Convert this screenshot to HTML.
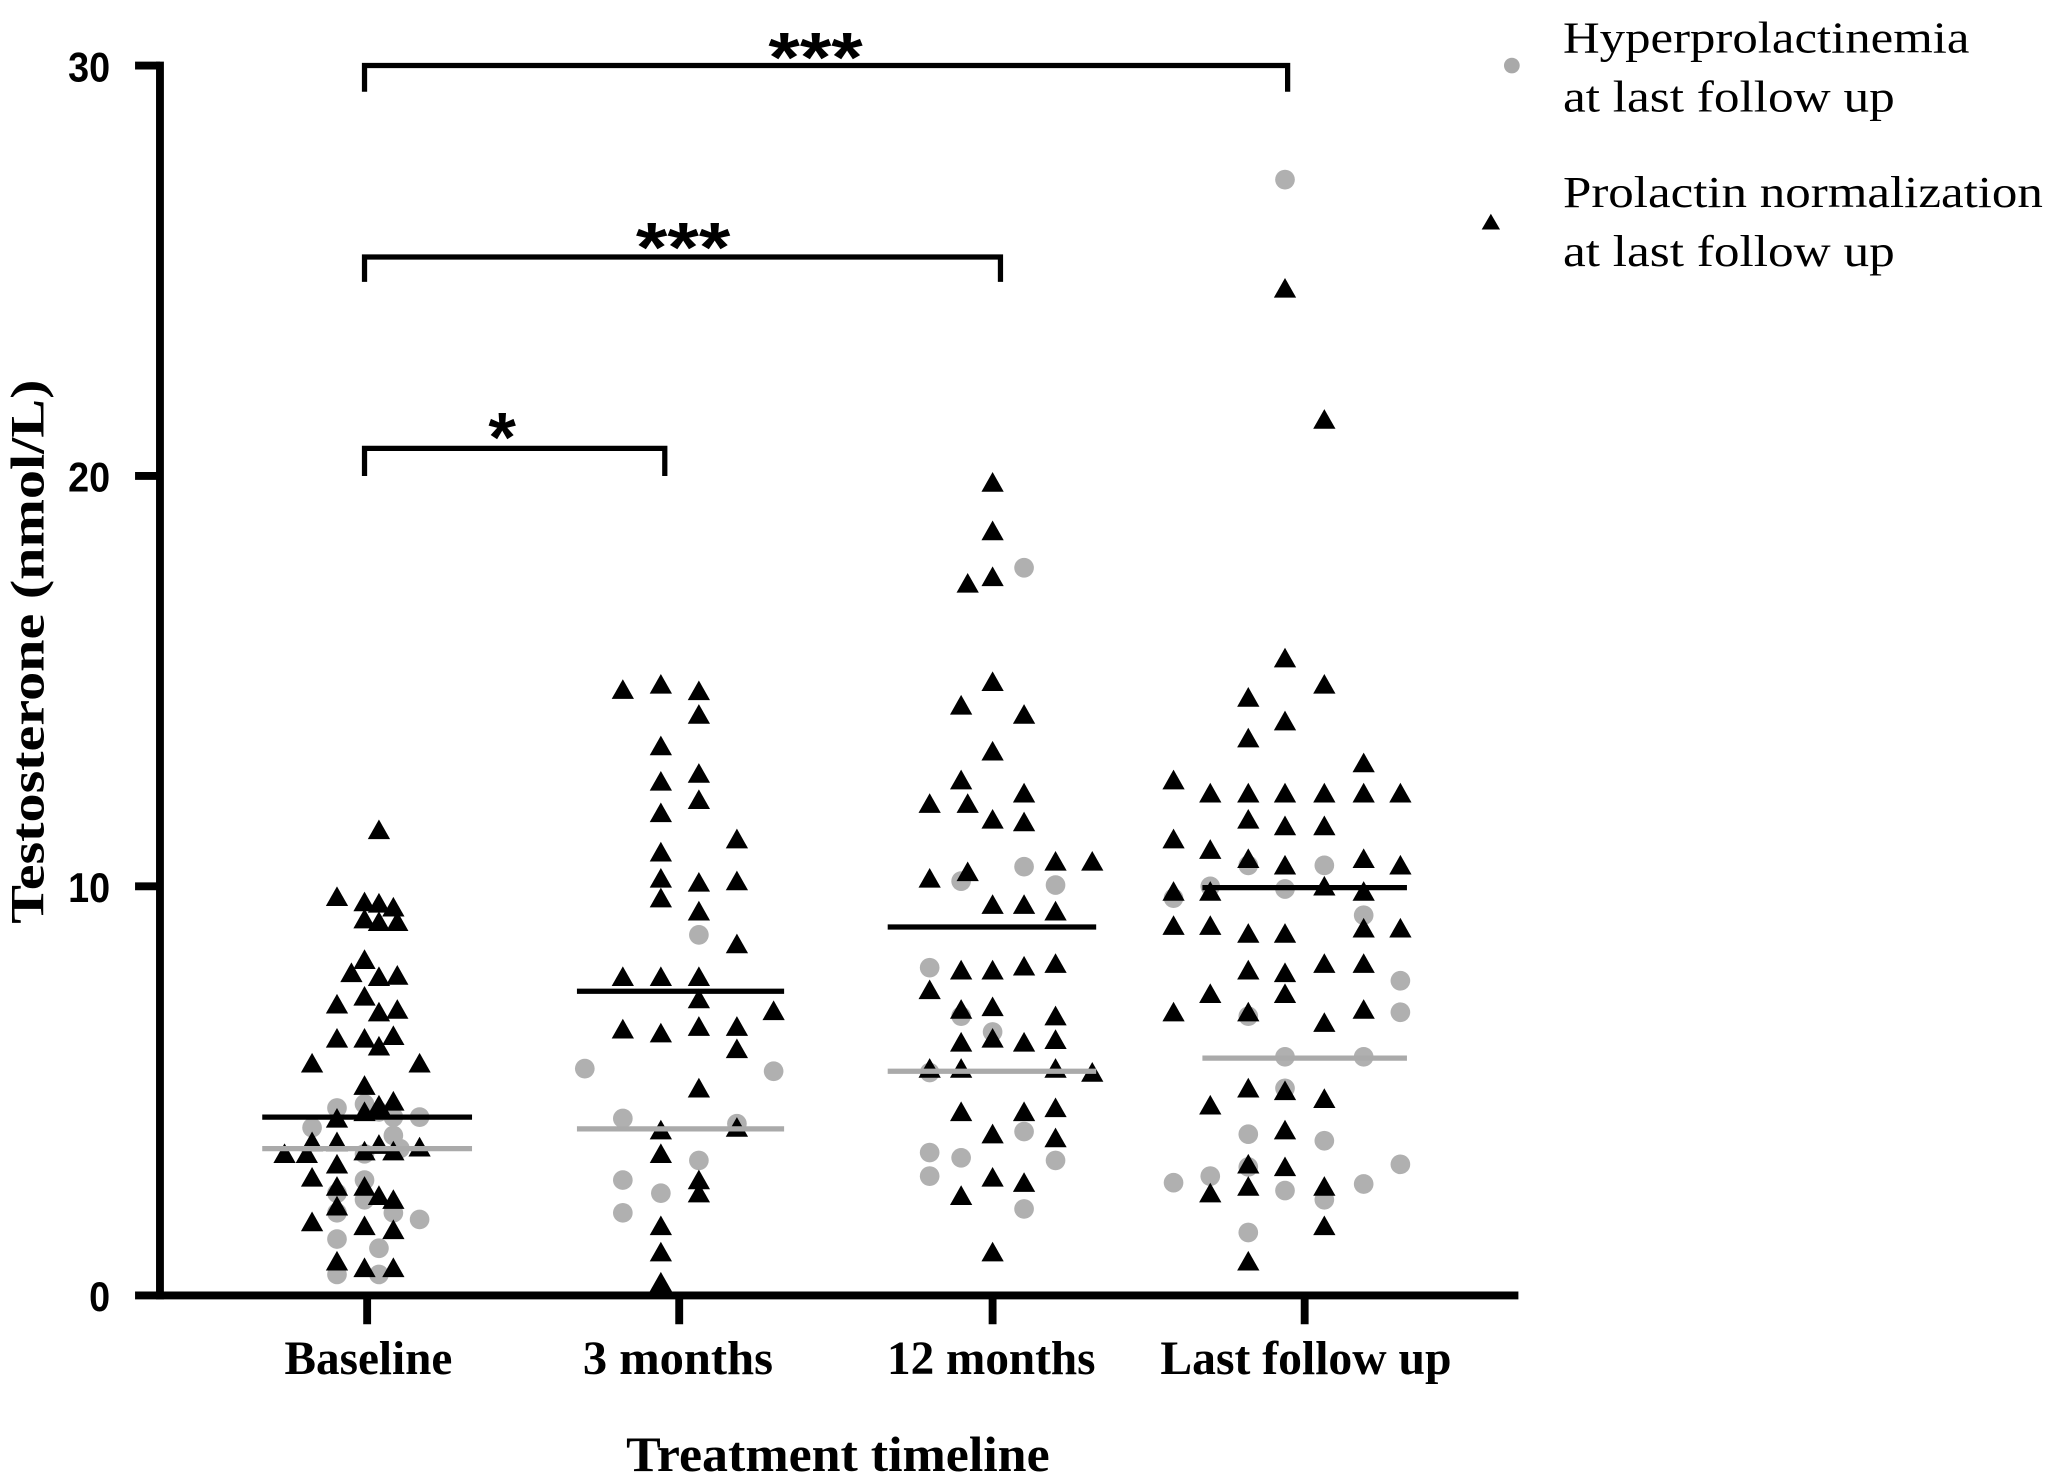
<!DOCTYPE html>
<html><head><meta charset="utf-8"><style>html,body{margin:0;padding:0;background:#fff}svg{display:block}</style></head>
<body>
<svg id="s" width="2056" height="1476" viewBox="0 0 1568 1125.7" preserveAspectRatio="none" xmlns="http://www.w3.org/2000/svg">
<rect width="1568" height="1126" fill="#fff"/>
<g stroke="#000" stroke-width="6" fill="none">
<line x1="122" y1="47" x2="122" y2="991"/>
<line x1="103" y1="50" x2="122" y2="50"/><line x1="103" y1="363" x2="122" y2="363"/>
<line x1="103" y1="676" x2="122" y2="676"/><line x1="103" y1="988" x2="1158" y2="988"/>
<line x1="280" y1="988" x2="280" y2="1010"/><line x1="518" y1="988" x2="518" y2="1010"/>
<line x1="757" y1="988" x2="757" y2="1010"/><line x1="995" y1="988" x2="995" y2="1010"/>
</g>
<g stroke="#000" stroke-width="4" fill="none">
<polyline points="278,70 278,50 982,50 982,70"/>
<polyline points="278,215 278,196 763,196 763,215"/>
<polyline points="278,363 278,342 507,342 507,363"/>
</g>
<g font-family="Liberation Sans, sans-serif" font-weight="bold" font-size="54" text-anchor="middle">
<text x="622" y="62" textLength="72" lengthAdjust="spacingAndGlyphs">***</text><text x="521" y="207" textLength="72" lengthAdjust="spacingAndGlyphs">***</text><text x="383" y="352">*</text>
</g>
<g font-family="Liberation Sans, sans-serif" font-weight="bold" font-size="32" text-anchor="end">
<text x="84" y="62" textLength="32" lengthAdjust="spacingAndGlyphs">30</text>
<text x="84" y="375" textLength="32" lengthAdjust="spacingAndGlyphs">20</text>
<text x="84" y="688" textLength="32" lengthAdjust="spacingAndGlyphs">10</text>
<text x="84" y="1000" textLength="16" lengthAdjust="spacingAndGlyphs">0</text>
</g>
<g font-family="Liberation Serif, serif" font-weight="bold" font-size="36" text-anchor="middle">
<text x="281" y="1048" textLength="128" lengthAdjust="spacingAndGlyphs">Baseline</text>
<text x="517" y="1048" textLength="145" lengthAdjust="spacingAndGlyphs">3 months</text>
<text x="756" y="1048" textLength="159" lengthAdjust="spacingAndGlyphs">12 months</text>
<text x="996" y="1048" textLength="222" lengthAdjust="spacingAndGlyphs">Last follow up</text>
<text x="639" y="1122" font-size="38" textLength="323" lengthAdjust="spacingAndGlyphs">Treatment timeline</text>
<text transform="translate(33,497) rotate(-90)" font-size="36" textLength="415" lengthAdjust="spacingAndGlyphs">Testosterone (nmol/L)</text>
</g>
<g font-family="Liberation Serif, serif" font-size="34">
<text x="1192" y="40" textLength="310" lengthAdjust="spacingAndGlyphs">Hyperprolactinemia</text>
<text x="1192" y="85" textLength="253" lengthAdjust="spacingAndGlyphs">at last follow up</text>
<text x="1192" y="158" textLength="366" lengthAdjust="spacingAndGlyphs">Prolactin normalization</text>
<text x="1192" y="203" textLength="253" lengthAdjust="spacingAndGlyphs">at last follow up</text>
</g>
<circle cx="1153" cy="50" r="6" fill="#a9a9a9"/>
<polygon points="1137,163 1130,175 1144,175" fill="#000"/>
<g id="pts"></g>
<g stroke-width="4">
<line x1="200" y1="852" x2="360" y2="852" stroke="#000"/><line x1="200" y1="876" x2="360" y2="876" stroke="#aaa"/>
<line x1="440" y1="756" x2="598" y2="756" stroke="#000"/><line x1="440" y1="861" x2="598" y2="861" stroke="#aaa"/>
<line x1="677" y1="707" x2="836" y2="707" stroke="#000"/><line x1="677" y1="817" x2="836" y2="817" stroke="#aaa"/>
<line x1="917" y1="677" x2="1073" y2="677" stroke="#000"/><line x1="917" y1="807" x2="1073" y2="807" stroke="#aaa"/>
</g>
</svg>
<script>
var T=[[289,633],[257,684],[278,688],[289,689],[300,692],[278,701],[289,703],[303,703],[278,732],[289,745],[268,742],[303,744],[257,766],[278,760],[303,770],[289,772],[257,792],[278,792],[300,790],[289,798],[238,811],[320,811],[278,828],[289,843],[257,853],[278,848],[300,840],[238,871],[257,871],[289,873],[217,880],[234,880],[300,878],[320,875],[257,888],[278,878],[238,898],[257,905],[278,905],[257,920],[289,912],[300,915],[238,932],[278,935],[300,938],[257,962],[278,967],[300,967],
[475,526],[504,522],[533,527],[533,545],[504,569],[533,590],[533,610],[504,596],[504,620],[562,640],[504,650],[504,670],[533,673],[562,672],[504,685],[533,695],[562,720],[475,745],[504,745],[533,745],[533,762],[533,783],[562,783],[590,771],[475,785],[504,788],[562,800],[533,830],[504,862],[562,860],[504,880],[533,910],[504,935],[533,900],[504,955],[504,978],
[757,368],[757,405],[738,445],[757,440],[757,520],[733,538],[781,545],[757,573],[733,595],[781,605],[709,613],[738,613],[757,625],[781,627],[805,657],[833,657],[709,670],[738,665],[757,690],[781,690],[805,695],[733,740],[757,740],[781,737],[805,735],[709,755],[733,770],[757,768],[805,775],[733,795],[757,792],[781,795],[805,793],[709,815],[733,815],[805,815],[833,818],[733,848],[781,848],[805,845],[757,865],[805,868],[757,898],[781,902],[733,912],[757,955],
[980,220],[1010,320],[980,502],[952,532],[1010,522],[980,550],[952,563],[1040,582],[895,595],[923,605],[952,605],[980,605],[1010,605],[1040,605],[1068,605],[952,625],[980,630],[1010,630],[895,640],[923,648],[952,655],[980,660],[1040,655],[1068,660],[895,680],[923,680],[1010,676],[1040,680],[895,706],[923,706],[952,712],[980,712],[1040,708],[1068,708],[952,740],[980,742],[1010,735],[1040,735],[923,758],[980,758],[895,772],[952,772],[1010,780],[1040,770],[952,830],[980,832],[923,843],[1010,838],[980,862],[952,888],[980,890],[952,905],[1010,905],[923,910],[1010,935],[952,962]];
var C=[[257,845],[278,842],[289,848],[300,852],[238,860],[300,866],[320,852],[278,880],[305,876],[257,910],[278,915],[257,925],[300,925],[320,930],[257,945],[289,952],[257,972],[289,972],[278,900],
[533,713],[446,815],[590,817],[475,853],[562,857],[533,885],[475,900],[504,910],[475,925],
[781,433],[733,672],[805,675],[781,661],[709,738],[733,775],[757,787],[709,818],[781,863],[709,879],[733,883],[805,885],[709,897],[781,922],
[980,137],[952,660],[1010,660],[895,685],[923,676],[1040,698],[980,678],[952,775],[1068,748],[1068,772],[980,806],[1040,806],[980,830],[952,865],[1010,870],[952,890],[1068,888],[923,897],[980,908],[1040,903],[895,902],[952,940],[1010,915]];
var s='';C.forEach(function(p){s+='<circle cx="'+p[0]+'" cy="'+p[1]+'" r="7.5" fill="#b0b0b0"/>';});
T.forEach(function(p){var x=p[0],y=p[1];s+='<polygon points="'+x+','+(y-8)+' '+(x-8.5)+','+(y+7)+' '+(x+8.5)+','+(y+7)+'" fill="#000"/>';});
document.getElementById('pts').innerHTML=s;
</script>
</body></html>
